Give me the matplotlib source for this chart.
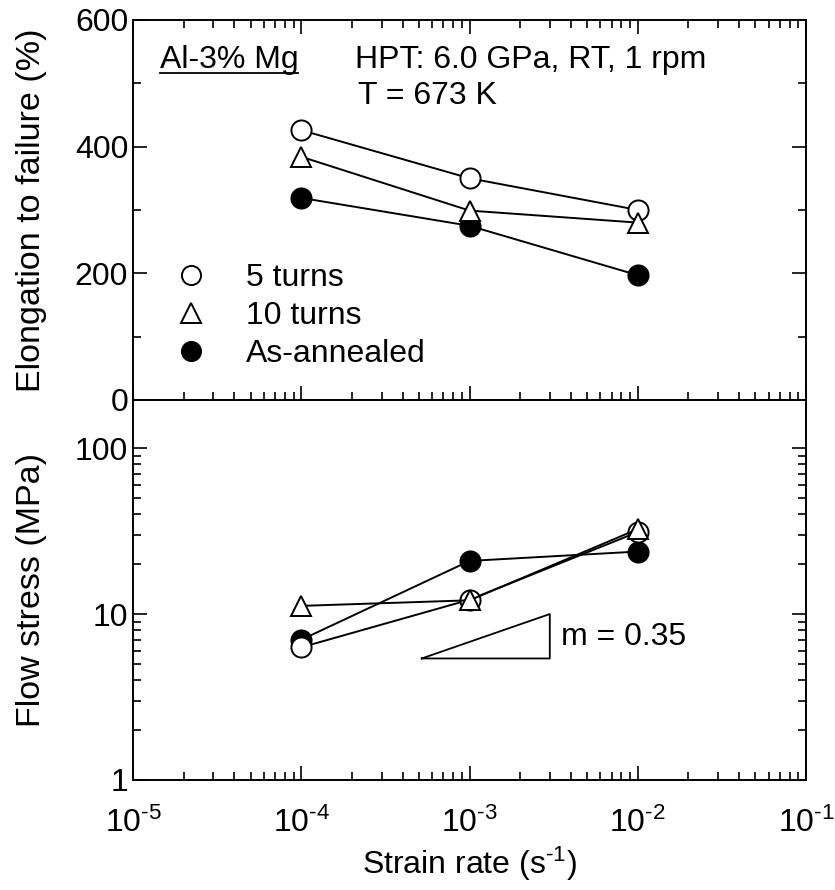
import numpy as np
import matplotlib
matplotlib.use("Agg")
import matplotlib.pyplot as plt
from matplotlib.ticker import LogLocator, MultipleLocator, NullFormatter, FuncFormatter

plt.rcParams['font.family'] = ['Liberation Sans', 'DejaVu Sans']
plt.rcParams['mathtext.fontset'] = 'custom'
plt.rcParams['mathtext.rm'] = 'Liberation Sans'
plt.rcParams['mathtext.it'] = 'Liberation Sans'
plt.rcParams['mathtext.default'] = 'regular'

# data
strain_rate = [1e-4, 1e-3, 1e-2]
elong_5 = [426, 350, 300]
elong_10 = [384, 299, 280]
elong_ann = [319, 275, 197]
stress_5 = [6.3, 12.2, 31.2]
stress_10 = [11.2, 12.1, 32.5]
stress_ann = [7.0, 20.9, 23.8]
labels = ['5 turns', '10 turns', 'As-annealed']

# slope triangle (m = 0.35)
tri_x = [5.2e-4, 3.0e-3, 3.0e-3, 5.2e-4]
tri_y = [5.4, 5.4, 10.0, 5.4]

fig = plt.figure(figsize=(8.35, 8.9), dpi=100)
ax1 = fig.add_axes([0.1593, 0.5506, 0.806, 0.427])
ax2 = fig.add_axes([0.1593, 0.1236, 0.806, 0.427], sharex=ax1)

fs = 23
ms = 14.5
st5 = dict(marker='o', mfc='white')
st10 = dict(marker='^', mfc='white')
stann = dict(marker='o', mfc='black')
common = dict(color='black', lw=1.4, ms=ms, mec='black', mew=1.4)

# drawing order: annealed, 5 turns, 10 turns (10 turns on top)
h_ann, = ax1.plot(strain_rate, elong_ann, label=labels[2], **stann, **common)
h5, = ax1.plot(strain_rate, elong_5, label=labels[0], **st5, **common)
h10, = ax1.plot(strain_rate, elong_10, label=labels[1], **st10, **common)
ax2.plot(strain_rate, stress_ann, **stann, **common)
ax2.plot(strain_rate, stress_5, **st5, **common)
ax2.plot(strain_rate, stress_10, **st10, **common)

ax2.plot(tri_x, tri_y, color='black', lw=1.3)
ax2.text(3.5e-3, 7.3, 'm = 0.35', fontsize=fs, va='center', ha='left')

ax1.set_xscale('log')
ax1.set_xlim(1e-5, 1e-1)
ax1.set_ylim(0, 600)
ax1.yaxis.set_major_locator(MultipleLocator(200))
ax1.yaxis.set_minor_locator(MultipleLocator(100))
ax2.set_yscale('log')
ax2.set_ylim(1, 195)

for ax in (ax1, ax2):
    ax.tick_params(which='both', direction='in', right=True, top=True, labelsize=fs, width=1.2)
    ax.tick_params(which='major', length=10)
    ax.tick_params(which='minor', length=6)
    for s in ax.spines.values():
        s.set_linewidth(1.4)
    ax.xaxis.set_major_locator(LogLocator(base=10, numticks=10))
    ax.xaxis.set_minor_locator(LogLocator(base=10, subs=np.arange(2, 10), numticks=10))
ax2.yaxis.set_minor_formatter(NullFormatter())
ax2.yaxis.set_major_formatter(FuncFormatter(lambda v, p: '%g' % v))
ax2.tick_params(axis='x', top=False, which='both')
ax1.tick_params(axis='x', labelbottom=False)
ax2.xaxis.set_major_formatter(FuncFormatter(
    lambda v, p: r'10$^{\text{-%d}}$' % round(-np.log10(v))))
ax2.xaxis.set_minor_formatter(NullFormatter())
ax2.tick_params(axis='x', pad=20)

ax1.set_ylabel('Elongation to failure (%)', fontsize=24.5)
ax2.set_ylabel('Flow stress (MPa)', fontsize=24.5)
ax2.set_xlabel(r'Strain rate (s$^{\text{-1}}$)', fontsize=fs, labelpad=4)
ax1.yaxis.set_label_coords(-0.128, 0.5)
ax2.yaxis.set_label_coords(-0.128, 0.5)

ax1.text(0.04, 0.894, 'Al-3% Mg', transform=ax1.transAxes, fontsize=fs, va='center')
ax1.plot([0.04, 0.245], [0.86, 0.86], transform=ax1.transAxes, color='black', lw=1.3)
ax1.text(0.33, 0.894, 'HPT: 6.0 GPa, RT, 1 rpm', transform=ax1.transAxes, fontsize=fs, va='center')
ax1.text(0.335, 0.8, 'T = 673 K', transform=ax1.transAxes, fontsize=fs, va='center')

leg = ax1.legend([h5, h10, h_ann], labels, loc='lower left', bbox_to_anchor=(0.02, 0.005),
                 frameon=False, fontsize=fs, handlelength=1.0, handletextpad=1.2,
                 labelspacing=0.25, markerscale=0.95)
for h in leg.legend_handles:
    h.set_linestyle('none')

fig.savefig('out.png', dpi=100)
